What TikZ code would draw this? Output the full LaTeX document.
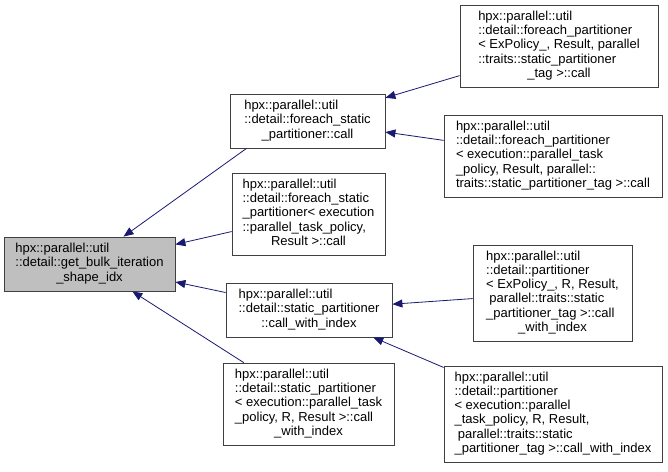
\documentclass[tikz,border=0pt]{standalone}
\usepackage{fontspec}
\setmainfont{Liberation Sans}
\usetikzlibrary{arrows.meta}
\definecolor{edgeblue}{RGB}{25,25,112}
\definecolor{rootgray}{RGB}{191,191,191}
% doxygen-like label: left lines, last line centred
\newcommand{\fnlabel}[2]{\begin{tabular}{@{}l@{}}#1\\\multicolumn{1}{@{}c@{}}{#2}\end{tabular}}
\tikzset{
  funcbox/.style={draw=black!75, fill=white, line width=0.8pt, inner sep=0pt, font=\fontsize{13}{14.2}\selectfont},
  rootbox/.style={funcbox, fill=rootgray},
  callarrow/.style={draw=edgeblue, line width=0.8pt, -{Triangle[length=10pt,width=8pt]}}
}

\begin{document}
\begin{tikzpicture}[x=1pt, y=-1pt]
  \useasboundingbox (0,0) rectangle (668,471);
  \node[rootbox, minimum width=171pt, minimum height=54pt] (root) at (89.5,264)
    {\fnlabel{hpx::parallel::util\\::detail::get\_bulk\_iteration}{\_shape\_idx}};
  \node[funcbox, minimum width=155pt, minimum height=54pt] (fsp) at (307.5,121)
    {\fnlabel{hpx::parallel::util\\::detail::foreach\_static}{\_partitioner::call}};
  \node[funcbox, minimum width=153pt, minimum height=82pt] (fspt) at (308.5,214)
    {\fnlabel{hpx::parallel::util\\::detail::foreach\_static\\\_partitioner< execution\\::parallel\_task\_policy,}{Result >::call}};
  \node[funcbox, minimum width=166pt, minimum height=54pt] (sp) at (309,310)
    {\fnlabel{hpx::parallel::util\\::detail::static\_partitioner}{::call\_with\_index}};
  \node[funcbox, minimum width=171pt, minimum height=82pt] (spt) at (308.5,404)
    {\fnlabel{hpx::parallel::util\\::detail::static\_partitioner\\< execution::parallel\_task\\\_policy, R, Result >::call}{\_with\_index}};
  \node[funcbox, minimum width=198pt, minimum height=82pt] (fp) at (559,46)
    {\fnlabel{hpx::parallel::util\\::detail::foreach\_partitioner\\< ExPolicy\_, Result, parallel\\::traits::static\_partitioner}{\_tag >::call}};
  \node[funcbox, minimum width=218pt, minimum height=82pt] (fpt) at (553,156)
    {\fnlabel{hpx::parallel::util\\::detail::foreach\_partitioner\\< execution::parallel\_task\\\_policy, Result, parallel::}{traits::static\_partitioner\_tag >::call}};
  \node[funcbox, minimum width=159pt, minimum height=96pt] (pp) at (552.5,293)
    {\fnlabel{hpx::parallel::util\\::detail::partitioner\\< ExPolicy\_, R, Result,\\\hspace{0.25em}parallel::traits::static\\\_partitioner\_tag >::call}{\_with\_index}};
  \node[funcbox, minimum width=218pt, minimum height=96pt] (ppt) at (553,414)
    {\fnlabel{hpx::parallel::util\\::detail::partitioner\\< execution::parallel\\\_task\_policy, R, Result,\\\hspace{0.25em}parallel::traits::static}{\_partitioner\_tag >::call\_with\_index}};
  % callers point at their callee
  \draw[callarrow] ([xshift=-61pt]fsp.south) -- ([xshift=34pt]root.north);
  \draw[callarrow] (fspt) -- (root);
  \draw[callarrow] (sp) -- (root);
  \draw[callarrow] (spt) -- (root);
  \draw[callarrow] (fp) -- (fsp);
  \draw[callarrow] (fpt) -- (fsp);
  \draw[callarrow] (pp) -- (sp);
  \draw[callarrow] (ppt) -- (sp);
\end{tikzpicture}
\end{document}
